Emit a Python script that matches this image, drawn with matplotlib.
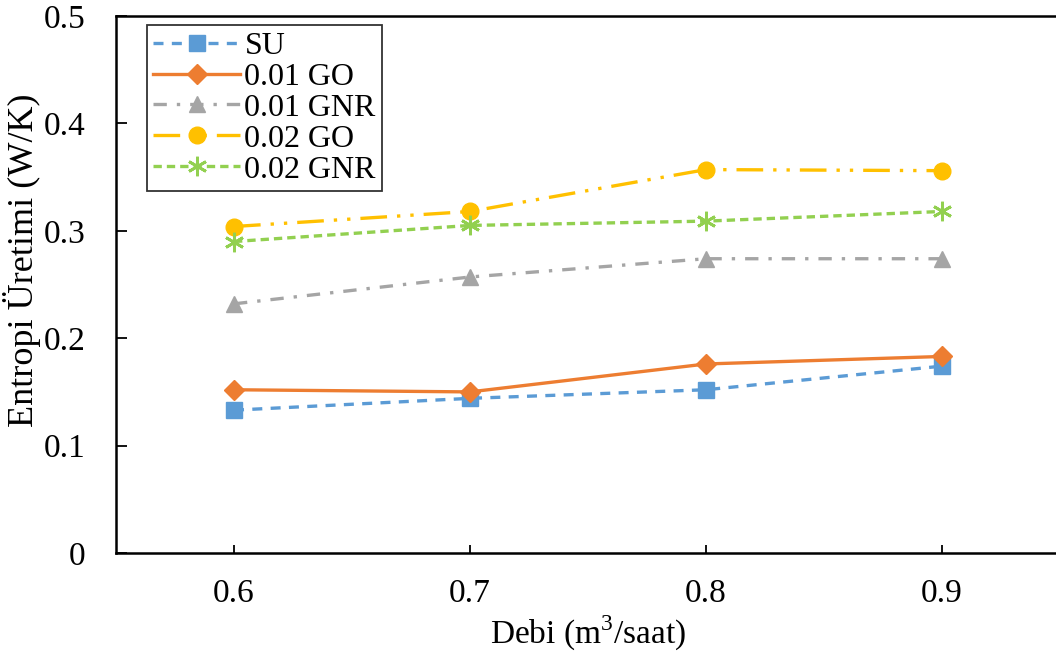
import matplotlib
matplotlib.use("Agg")
import matplotlib.pyplot as plt

plt.rcParams["font.family"] = ["Liberation Serif", "DejaVu Serif"]
plt.rcParams["mathtext.fontset"] = "custom"
plt.rcParams["mathtext.rm"] = "Liberation Serif"

debi = [0.6, 0.7, 0.8, 0.9]
su = [0.133, 0.144, 0.152, 0.174]
go_01 = [0.152, 0.150, 0.176, 0.183]
gnr_01 = [0.232, 0.257, 0.274, 0.274]
go_02 = [0.304, 0.318, 0.357, 0.356]
gnr_02 = [0.290, 0.305, 0.309, 0.318]

fig = plt.figure(figsize=(10.56, 6.59), dpi=100)
W, H = 1056, 659
ax = fig.add_axes([116 / W, 1 - 553 / H, (1060 - 116) / W, (553 - 16) / H])

lw = 2.4
ax.plot(debi, su, color="#5B9BD5", lw=lw, linestyle=(0, (3, 2.5)),
        marker="s", markersize=12, label="SU")
ax.plot(debi, go_01, color="#ED7D31", lw=lw, linestyle="-",
        marker="D", markersize=10, label="0.01 GO")
ax.plot(debi, gnr_01, color="#A5A5A5", lw=lw, linestyle=(0, (4, 3, 1, 3)),
        marker="^", markersize=12, label="0.01 GNR")
ax.plot(debi, go_02, color="#FFC000", lw=lw, linestyle=(0, (8, 3, 1, 3, 1, 3)),
        marker="o", markersize=12, label="0.02 GO")
ax.plot(debi, gnr_02, color="#92D050", lw=lw, linestyle=(0, (2.5, 1.5)),
        marker=(6, 2, 0), markersize=14, markeredgewidth=2, label="0.02 GNR")

ax.set_xlim(0.55, 0.95)
ax.set_ylim(0, 0.5)
ax.set_xticks(debi)
ax.set_xticklabels(["0.6", "0.7", "0.8", "0.9"])
ax.set_yticks([0, 0.1, 0.2, 0.3, 0.4, 0.5])
ax.set_yticklabels(["0", "0.1", "0.2", "0.3", "0.4", "0.5"])
ax.tick_params(axis="both", direction="in", labelsize=24, width=1.3, color="black")
ax.tick_params(axis="y", length=8, pad=22)
ax.tick_params(axis="x", length=6, pad=18)
for s in ax.spines.values():
    s.set_linewidth(1.8)

ax.set_xlabel("Debi (m$^3$/saat)", fontsize=24, labelpad=4)
ax.set_ylabel("Entropi Üretimi (W/K)", fontsize=26)
ax.yaxis.set_label_coords((41 - 116) / 944, (553 - 260) / 537)

leg = ax.legend(loc="upper left", bbox_to_anchor=((147 - 116) / (1060 - 116), 1 - 9 / 537),
                fontsize=23, frameon=True, fancybox=False, edgecolor="black",
                handlelength=2.7, handletextpad=0.15, labelspacing=0.05,
                borderpad=0.2, borderaxespad=0)
leg.get_frame().set_linewidth(1.3)

fig.savefig("out.png", dpi=100)
